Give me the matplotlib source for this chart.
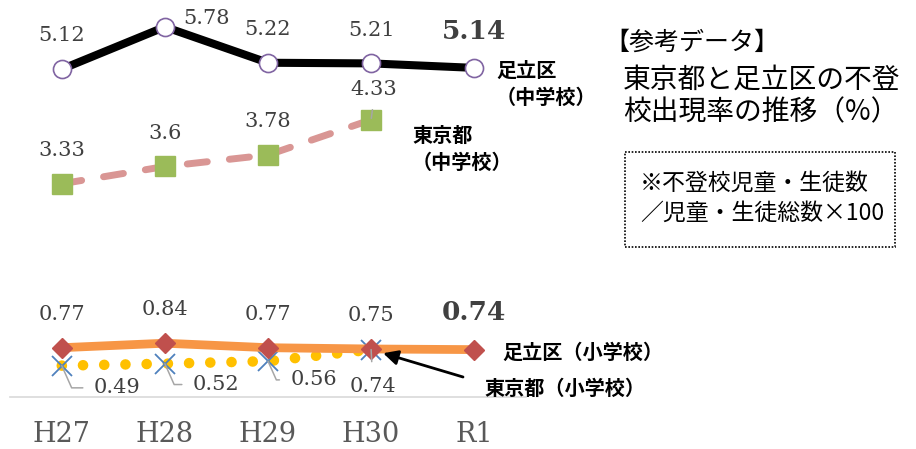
import matplotlib
matplotlib.use("Agg")
import matplotlib.pyplot as plt
from matplotlib.patches import Rectangle

# School non-attendance rates (%), Tokyo vs. Adachi ward
years = ["H27", "H28", "H29", "H30", "R1"]
adachi_jhs = [5.12, 5.78, 5.22, 5.21, 5.14]   # 足立区（中学校）
tokyo_jhs = [3.33, 3.6, 3.78, 4.33]           # 東京都（中学校）
adachi_es = [0.77, 0.84, 0.77, 0.75, 0.74]    # 足立区（小学校）
tokyo_es = [0.49, 0.52, 0.56, 0.74]           # 東京都（小学校）

plt.rcParams['font.family'] = ['Noto Sans CJK JP', 'DejaVu Sans']
NUM_FONT = 'DejaVu Serif'
NUM_COLOR = '#404040'

W, H = 916, 449
fig = plt.figure(figsize=(W / 100, H / 100), dpi=100)


def fx(px):
    return px / W


def fy(py):
    return 1 - py / H


ax = fig.add_axes([fx(10.2), fy(397), (525.8 - 10.2) / W, 397 / H])
x = list(range(len(years)))

# elementary school lines
ax.plot(x[:len(tokyo_es)], tokyo_es, color='#ffc000', lw=7.6,
        linestyle=(0, (0.01, 2.0)), dash_capstyle='round', zorder=2)
ax.plot(x[:len(tokyo_es)], tokyo_es, linestyle='none', marker='x', ms=14,
        mew=1.3, color='#4f81bd', zorder=3)
ax.plot(x, adachi_es, color='#f79646', lw=6.3, zorder=4)
ax.plot(x, adachi_es, linestyle='none', marker='D', ms=10.5,
        color='#c0504d', zorder=5)

# junior high school lines
ax.plot(x[:len(tokyo_jhs)], tokyo_jhs, color='#d99694', lw=5,
        linestyle=(0, (2.9, 3.2)), dash_capstyle='round', zorder=2)
ax.plot(x[:len(tokyo_jhs)], tokyo_jhs, linestyle='none', marker='s',
        ms=14.4, color='#9bbb59', zorder=3)
ax.plot(x, adachi_jhs, color='black', lw=5.8, marker='o', ms=13,
        mfc='white', mec='#8064a2', mew=1.2, zorder=4)

ax.set_xlim(-0.5, len(years) - 0.5)
ax.set_ylim(0, 6.2)
ax.set_yticks([])
for side in ('left', 'right', 'top'):
    ax.spines[side].set_visible(False)
ax.spines['bottom'].set_color('#d9d9d9')
ax.spines['bottom'].set_linewidth(1.2)
ax.set_xticks(x, years)
ax.tick_params(axis='x', length=0, pad=17, labelsize=19.5,
               labelcolor='#595959')
for t in ax.get_xticklabels():
    t.set_fontfamily(NUM_FONT)


def value_label(xi, v, dx=0, dy=24, bold=False, leader=None):
    kw = dict(xytext=(dx, dy), textcoords='offset points', ha='center',
              va='center', fontfamily=NUM_FONT, color=NUM_COLOR, zorder=6,
              annotation_clip=False)
    if bold:
        kw.update(fontsize=19, fontweight='bold')
    else:
        kw.update(fontsize=15)
    if leader is not None:
        kw['arrowprops'] = dict(arrowstyle='-', color='#a6a6a6', lw=1.1,
                                **leader)
    ax.annotate(f"{v:g}", (xi, v), **kw)


# junior high labels
value_label(0, adachi_jhs[0])
value_label(1, adachi_jhs[1], dx=30, dy=6)
value_label(2, adachi_jhs[2])
value_label(3, adachi_jhs[3])
value_label(4, adachi_jhs[4], dy=26, bold=True)
value_label(0, tokyo_jhs[0])
value_label(1, tokyo_jhs[1])
value_label(2, tokyo_jhs[2])
value_label(3, tokyo_jhs[3], dx=2, dy=22,
            leader=dict(relpos=(0.5, 0), shrinkA=6, shrinkB=1))

# elementary labels
value_label(0, adachi_es[0])
value_label(1, adachi_es[1])
value_label(2, adachi_es[2])
value_label(3, adachi_es[3])
value_label(4, adachi_es[4], dy=27, bold=True)
elbow = dict(relpos=(0, 0.5), shrinkA=6, shrinkB=0,
             connectionstyle='angle,angleA=0,angleB=-66')
value_label(0, tokyo_es[0], dx=40, dy=-16, leader=elbow)
value_label(1, tokyo_es[1], dx=37, dy=-15, leader=elbow)
value_label(2, tokyo_es[2], dx=33, dy=-13.5, leader=elbow)
value_label(3, tokyo_es[3], dx=1, dy=-26.5,
            leader=dict(relpos=(0.5, 1), shrinkA=9, shrinkB=0))

# series names
name_kw = dict(fontsize=14.5, fontweight='bold', color='black',
               ha='left', va='center')
fig.text(fx(496), fy(70), "足立区", **name_kw)
fig.text(fx(496), fy(97), "（中学校）", **name_kw)
fig.text(fx(412), fy(135), "東京都", **name_kw)
fig.text(fx(412), fy(162), "（中学校）", **name_kw)
fig.text(fx(502), fy(352), "足立区（小学校）", **name_kw)
fig.text(fx(484), fy(388), "東京都（小学校）", **name_kw)

ax.annotate('', xy=(3, tokyo_es[3]), xycoords='data',
            xytext=(fx(463), fy(377)), textcoords='figure fraction',
            arrowprops=dict(arrowstyle='-|>', color='black', lw=2,
                            mutation_scale=22, shrinkA=0, shrinkB=9),
            zorder=7, annotation_clip=False)

# title block and formula note
fig.text(fx(604), fy(43), "【参考データ】", fontsize=18, color='black',
         ha='left', va='center')
fig.text(fx(623), fy(80), "東京都と足立区の不登", fontsize=20,
         color='black', ha='left', va='center')
fig.text(fx(623), fy(112), "校出現率の推移（%）", fontsize=20,
         color='black', ha='left', va='center')
fig.add_artist(Rectangle((fx(625), fy(247)), fx(895) - fx(625),
                         fy(152) - fy(247), transform=fig.transFigure,
                         fill=False, edgecolor='black', lw=1.2,
                         linestyle=(0, (1, 1))))
fig.text(fx(640), fy(183), "※不登校児童・生徒数", fontsize=16.5,
         color='black', ha='left', va='center')
fig.text(fx(640), fy(213), "／児童・生徒総数×100", fontsize=16.5,
         color='black', ha='left', va='center')

fig.savefig("out.png", dpi=100)
